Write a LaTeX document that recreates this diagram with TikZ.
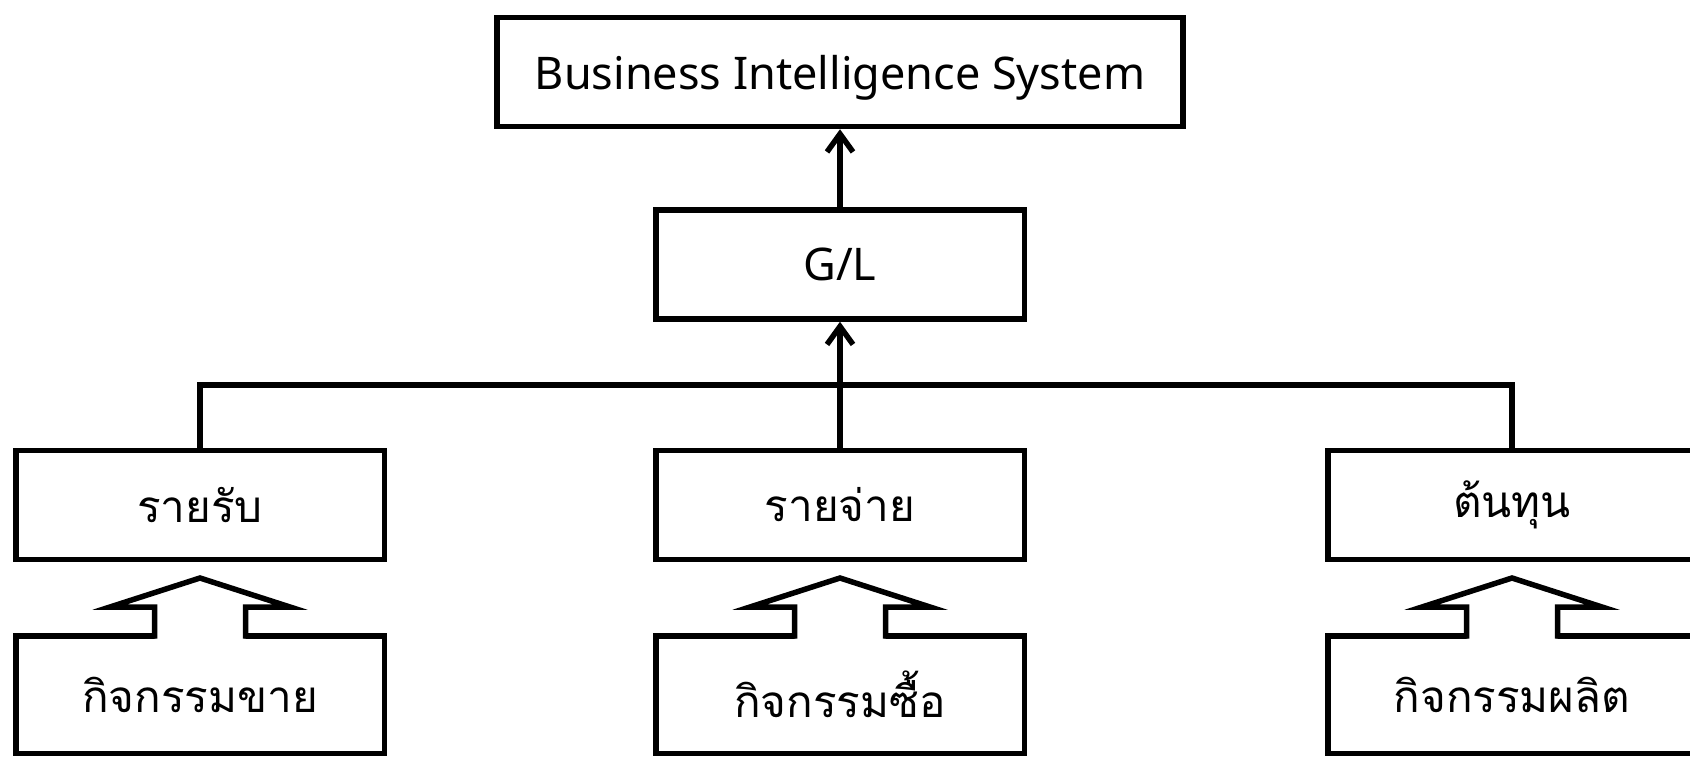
\documentclass[tikz,border=0pt]{standalone}
\usepackage{fontspec}
\setmainfont{Noto Sans}
\newfontfamily\thaifont[Script=Thai]{Loma}
\usetikzlibrary{arrows.meta}

\begin{document}
\begin{tikzpicture}[x=0.5pt, y=-0.5pt]
	\tikzset{box/.style={draw, line width=2.75pt, minimum width=184.25pt, minimum height=54.5pt, inner sep=0}}
	\tikzset{latinbox/.style={box, text depth=0pt, font=\fontsize{22.5}{26}\selectfont}}
	\tikzset{thaibox/.style={box, font=\thaifont\fontsize{22}{26}\selectfont}}
	\tikzset{ar/.style={-{Straight Barb[length=9pt, width=13pt]}, line width=2.75pt}}
	\tikzset{hollow/.style={draw, fill=white, line width=2.75pt}}
	\useasboundingbox (0,0) rectangle (1690,758);
	\node[latinbox, minimum width=343pt] at (840, 72) (bis) {Business Intelligence System};
	\node[latinbox] at (840, 264.5) (gl) {G/L};
	\node[thaibox] at (200, 505) (rb) {รายรับ};
	\node[thaibox] at (840, 505) (rj) {รายจ่าย};
	\node[thaibox] at (1512, 505) (tn) {ต้นทุน};
	\node[thaibox, minimum height=58.75pt] at (200, 694.5) (ks) {กิจกรรมขาย};
	\node[thaibox, minimum height=58.75pt] at (840, 694.5) (kb) {กิจกรรมซื้อ};
	\node[thaibox, minimum height=58.75pt] at (1512, 694.5) (kp) {กิจกรรมผลิต};
	\coordinate (bus) at (840, 385);
	\draw[line width=2.75pt] (rb.north) |- (bus) -| (tn.north);
	\draw[ar] (rj.north) -- (gl.south);
	\draw[ar] (gl.north) -- (bis.south);
	% hollow arrows from the activities
	\fill[white] ([xshift=-22pt, yshift=1pt]ks.north) rectangle ++(88,9);
	\fill[white] ([xshift=-22pt, yshift=1pt]kb.north) rectangle ++(88,9);
	\fill[white] ([xshift=-22pt, yshift=1pt]kp.north) rectangle ++(88,9);
	\draw[hollow] ([xshift=-22.75pt, yshift=-2.75pt]ks.north) -- ++(0,-31.5) -- ++(-44.5,0) -- ++(90,-29) -- ++(90,29) -- ++(-44.5,0) -- ++(0,31.5);
	\draw[hollow] ([xshift=-22.75pt, yshift=-2.75pt]kb.north) -- ++(0,-31.5) -- ++(-44.5,0) -- ++(90,-29) -- ++(90,29) -- ++(-44.5,0) -- ++(0,31.5);
	\draw[hollow] ([xshift=-22.75pt, yshift=-2.75pt]kp.north) -- ++(0,-31.5) -- ++(-44.5,0) -- ++(90,-29) -- ++(90,29) -- ++(-44.5,0) -- ++(0,31.5);
\end{tikzpicture}
\end{document}
